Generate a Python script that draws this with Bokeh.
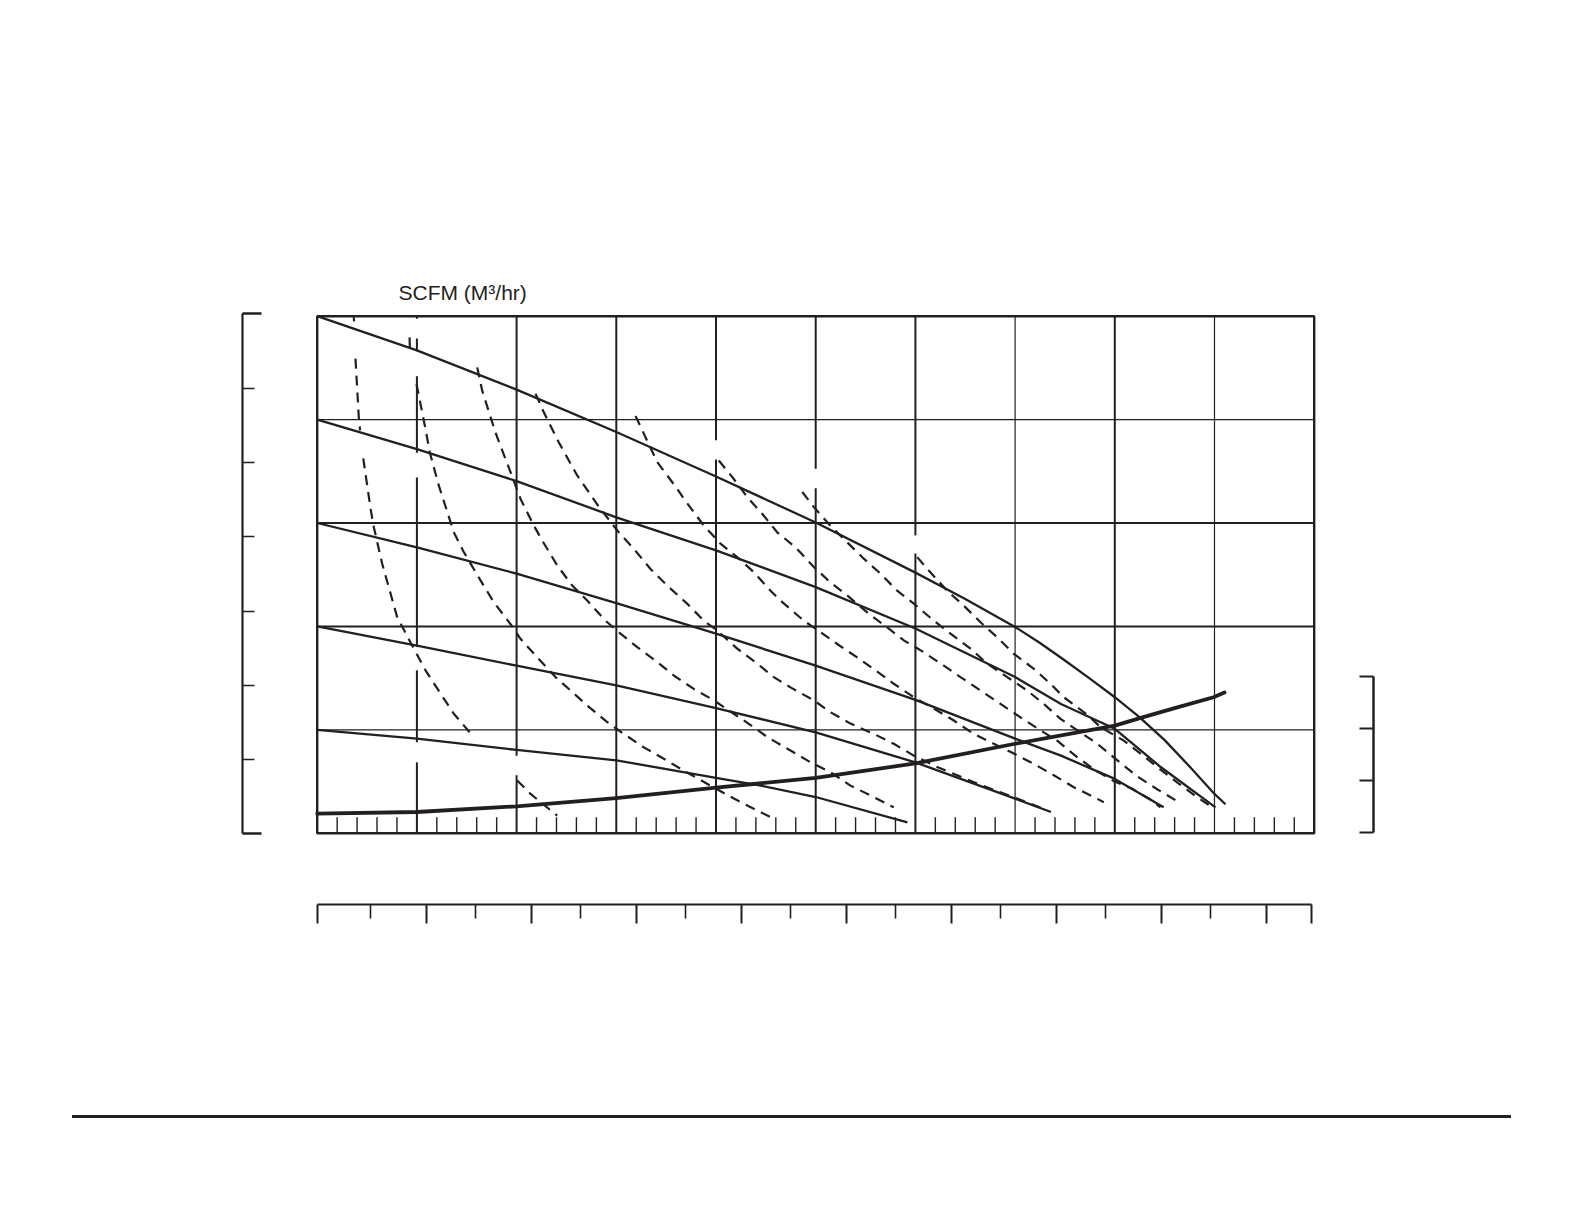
import math
from bokeh.plotting import figure
from bokeh.models import Range1d, LinearAxis, FixedTicker, CustomJSTickFormatter, ColumnDataSource, Div
from bokeh.layouts import column
from bokeh.embed import file_html
from bokeh.resources import INLINE
from bokeh.core.properties import value

INK = "#231f20"
NAN = float("nan")

# ---------------- data ----------------
# main grid (SCFM scale, 10 columns x 5 rows)
grid_x = [10, 20, 30, 40, 50, 60, 70, 80, 90]
grid_x_w = [2, 2, 2, 2, 2, 2, 1.2, 2, 1.2]
# blank gaps in the vertical grid lines (where curve labels were), in y units
grid_x_gaps = {10: [(99.5, 95.7), (93.2, 88.4), (73.6, 68.8), (36.0, 31.5), (17.6, 13.7)],
               20: [(15.0, 11.2)], 40: [(76.0, 72.3)], 50: [(70.5, 66.7)], 60: [(57.6, 54.1)]}
grid_y = [20, 40, 60, 80]
grid_y_w = [1.2, 2, 2, 1.2]
minor_x = [v for v in range(2, 100, 2) if v % 10 != 0]

# solid pressure curves
s1_x = [0, 10, 20, 30, 40, 50, 60, 65, 70, 72.5, 75, 77.5, 80, 82.5, 85, 87.5, 90, 91.1]
s1_y = [100, 93.4, 85.8, 77.6, 69.0, 60.1, 50.4, 45.3, 39.9, 36.8, 33.4, 29.9, 26.3, 22.4, 18.0, 12.9, 7.6, 5.6]
s2_x = [0, 10, 20, 30, 40, 50, 60, 70, 74.6, 80, 84.6, 90.1]
s2_y = [80, 74.3, 68.1, 61.1, 54.7, 47.6, 39.6, 30.2, 25.0, 20.2, 12.8, 5.0]
s3_x = [0, 10, 20, 30, 40, 50, 60, 70, 74.6, 80, 84.9]
s3_y = [60, 55.3, 50.2, 44.5, 38.6, 32.4, 25.8, 18.3, 15.0, 10.5, 5.0]
s4_x = [0, 10, 20, 30, 40, 50, 60, 70, 73.6]
s4_y = [40, 36.3, 32.4, 28.6, 24.2, 19.5, 13.7, 6.7, 4.1]
s5_x = [0, 10, 20, 30, 40, 44.5, 50, 59.2]
s5_y = [20, 18.3, 16.1, 14.1, 10.7, 9.2, 7.0, 2.1]

# heavy rising curve
h_x = [0, 10, 20, 30, 40, 50, 60, 70, 80, 82.6, 86, 89.9, 91]
h_y = [3.8, 4.1, 5.2, 6.8, 8.8, 10.7, 13.5, 17.3, 20.8, 22.3, 24.2, 26.3, 27.2]

# dashed air-consumption curves (NaN = blank where a label was)
d1_x = [3.67, 3.70, NAN, 3.84, 4.17, 4.30, NAN, 4.62, 5.35, 5.68, 6.52, 8.02, 9.36, 10.86, 13.70, 15.71,
        NAN, 20.06, 21.40, 24.07]
d1_y = [99.8, 99.0, NAN, 91.8, 80.5, 77.9, NAN, 72.5, 62.8, 59.2, 52.1, 41.8, 36.9, 31.5, 23.1, 18.6,
        NAN, 10.2, 7.6, 3.4]
d2_x = [9.26, 9.30, NAN, 9.96, 10.86, 11.29, 12.14, 13.70, 14.70, 16.38, 17.71, 19.56, 20.39, 22.07, 23.90,
        25.41, 27.08, 29.09, 30.75, 32.76, 34.76, 36.77, 39.45, 41.79, 44.13, 45.47]
d2_y = [95.9, 93.6, NAN, 86.9, 78.2, 73.7, 67.6, 58.2, 54.4, 48.9, 44.7, 40.0, 37.6, 34.0, 30.2,
        27.6, 24.7, 21.5, 19.2, 16.6, 14.4, 12.1, 9.2, 6.7, 4.4, 3.1]
d3_x = [16.05, 16.55, 17.55, 18.05, 19.26, 20.39, 21.73, 22.57, 24.07, 25.58, 27.08, 28.92, 30.42, 32.10,
        34.10, 35.77, 37.77, 39.78, 41.79, 43.79, 45.14, 47.47, 49.48, 51.48, 53.49, 55.50, 57.83]
d3_y = [90.1, 85.6, 79.5, 76.6, 70.5, 64.7, 59.5, 56.6, 51.8, 47.9, 45.0, 41.1, 38.6, 36.0,
        33.1, 30.5, 27.9, 25.7, 23.1, 20.5, 18.6, 16.0, 13.7, 11.8, 9.2, 7.3, 5.0]
d4_x = [21.90, 22.73, 24.23, 26.08, 28.42, 30.25, 31.76, 33.43, 35.27, 37.11, 38.78, 40.12, 42.13, 44.13,
        45.80, 47.47, 49.81, 51.48, 53.49, 55.83, 57.83, 59.84, 62.19, 64.19, 66.20, 68.54, 70.21, 72.88]
d4_y = [85.0, 81.4, 75.6, 69.2, 62.7, 58.2, 55.0, 51.1, 47.6, 44.4, 41.1, 39.2, 35.7, 32.8,
        30.2, 28.2, 25.7, 23.4, 21.2, 19.2, 17.3, 15.0, 12.8, 11.2, 9.6, 7.9, 6.7, 4.7]
d5_x = [31.93, 33.10, 34.10, 36.11, 36.77, 38.78, 40.45, 42.13, 43.79, 45.47, 46.47, 48.81, 50.48, 52.16,
        54.16, 56.00, 57.83, 59.84, 61.85, 63.85, 65.86, 67.86, 69.87, 71.88, 73.88, 75.89, 77.89, 78.90]
d5_y = [80.7, 75.9, 71.8, 66.6, 64.7, 59.5, 56.0, 53.4, 50.5, 46.9, 45.0, 41.1, 38.9, 36.6,
        34.0, 31.5, 28.9, 26.3, 24.1, 21.8, 19.2, 17.3, 15.4, 13.4, 11.2, 8.9, 7.0, 6.0]
d6_x = [40.28, 41.79, 43.13, 44.63, 46.14, 47.97, 49.81, 51.48, 53.16, 55.17, 57.17, 58.84, 60.84, 62.85,
        64.52, 66.53, 68.54, 70.54, 72.55, 74.22, 76.16, 77.96, 79.97, 81.75, 83.75, 84.58]
d6_y = [72.1, 68.5, 65.0, 61.8, 58.2, 55.3, 51.5, 48.5, 46.0, 42.7, 39.8, 37.3, 35.0, 32.4,
        30.2, 27.6, 25.0, 22.4, 19.9, 17.9, 14.8, 12.3, 10.0, 8.6, 6.3, 5.0]
d7_x = [48.65, 49.81, 51.31, 52.82, 54.82, 56.50, 58.17, 59.84, 61.85, 63.52, 65.53, 67.20, 69.21, 71.21,
        72.88, 74.56, 76.86, 78.24, 80.57, 82.25, 84.25, 86.34]
d7_y = [66.0, 63.1, 59.8, 56.9, 53.1, 50.2, 46.9, 44.4, 41.1, 38.6, 35.7, 32.8, 30.2, 27.6,
        25.0, 22.1, 19.1, 17.3, 13.6, 11.0, 8.5, 6.1]
d8_x = [60.18, 61.34, 63.19, 64.86, 66.53, 68.20, 69.87, 71.88, 73.55, 74.88, 77.31, 78.57, 80.90, 82.91,
        84.58, 86.34, 88.17, 89.77]
d8_y = [53.4, 50.8, 46.9, 44.0, 40.8, 37.9, 34.7, 31.8, 28.9, 26.3, 22.8, 20.5, 17.9, 14.9,
        12.3, 9.7, 7.1, 5.0]

# outer scales (tick values; their labels are blank in the original)
left_major = [0, 7]
left_minor = [1, 2, 3, 4, 5, 6]
right_ticks = [0, 1, 2, 3]
bottom_major = [-0.032, 1, 2, 3, 4, 5, 6, 7, 8, 9, 9.429]
bottom_minor = [0.47, 1.47, 2.47, 3.47, 4.47, 5.47, 6.47, 7.47, 8.47]

title_text = "SCFM (M\u00b3/hr)"

# ---------------- layout constants (pixels) ----------------
FL, FR, FT, FB = 242, 1373, 272, 904           # frame edges on the page
PX0, PXS = 316.7, 9.97                          # x=0 position, px per unit
PY0, PYS = 832.7, 5.17                          # y=0 position, px per unit
LY0, LYS = 833.4, 74.3                          # left scale
RY0, RYS = 832.3, 52.1                          # right scale
BX0, BXS = 320.7, 105.0                         # bottom scale
RULE_Y, RULE_X0, RULE_X1 = 1115, 72, 1511       # page rule
TITLE_X, TITLE_Y = 398, 291.5                   # caption position

p = figure(
    frame_width=FR - FL, frame_height=FB - FT,
    min_border_left=FL, min_border_top=FT, min_border_right=30, min_border_bottom=RULE_Y - FB,
    x_range=Range1d((FL - PX0) / PXS, (FR - PX0) / PXS),
    y_range=Range1d((PY0 - FB) / PYS, (PY0 - FT) / PYS),
    x_axis_location=None, y_axis_location=None,
    output_backend="svg", toolbar_location=None,
)
p.grid.visible = False
p.outline_line_color = None
p.background_fill_color = "white"
p.border_fill_color = "white"

p.extra_y_ranges = {
    "L": Range1d((LY0 - FB) / LYS, (LY0 - FT) / LYS),
    "R": Range1d((RY0 - FB) / RYS, (RY0 - FT) / RYS),
}
p.extra_x_ranges = {"B": Range1d((FL - BX0) / BXS, (FR - BX0) / BXS)}

blank = CustomJSTickFormatter(code="return ''")

ax_l = LinearAxis(
    y_range_name="L", bounds=(left_major[0], left_major[-1]),
    ticker=FixedTicker(ticks=left_major, minor_ticks=left_minor),
    major_tick_in=19, major_tick_out=0, minor_tick_in=12, minor_tick_out=0,
    axis_line_color=INK, axis_line_width=2.2,
    major_tick_line_color=INK, major_tick_line_width=2.5,
    minor_tick_line_color=INK, minor_tick_line_width=1.5,
    formatter=blank, major_label_text_font_size="0px",
)
p.add_layout(ax_l, "left")

ax_r = LinearAxis(
    y_range_name="R", bounds=(right_ticks[0], right_ticks[-1]),
    ticker=FixedTicker(ticks=right_ticks, minor_ticks=[]),
    major_tick_in=14, major_tick_out=0, minor_tick_in=0, minor_tick_out=0,
    axis_line_color=INK, axis_line_width=2.5,
    major_tick_line_color=INK, major_tick_line_width=2,
    formatter=blank, major_label_text_font_size="0px",
)
p.add_layout(ax_r, "right")

ax_b = LinearAxis(
    x_range_name="B", bounds=(bottom_major[0] - 0.001, bottom_major[-1] + 0.001),
    ticker=FixedTicker(ticks=bottom_major, minor_ticks=bottom_minor),
    major_tick_in=0, major_tick_out=19, minor_tick_in=0, minor_tick_out=14,
    axis_line_color=INK, axis_line_width=2.2,
    major_tick_line_color=INK, major_tick_line_width=2,
    minor_tick_line_color=INK, minor_tick_line_width=1.6,
    formatter=blank, major_label_text_font_size="0px",
)
p.add_layout(ax_b, "below")

# vertical grid lines, broken where the original had labels
vx, vy, vw = [], [], []
for gx, w in zip(grid_x, grid_x_w):
    top = 100.0
    for g_hi, g_lo in grid_x_gaps.get(gx, []):
        vx.append([gx, gx]); vy.append([top, g_hi]); vw.append(w)
        top = g_lo
    vx.append([gx, gx]); vy.append([top, 0.0]); vw.append(w)
p.multi_line(xs=vx, ys=vy, line_color=INK, line_width=vw)
p.segment(x0=[0] * len(grid_y), x1=[100] * len(grid_y), y0=grid_y, y1=grid_y,
          line_color=INK, line_width=grid_y_w)
p.segment(x0=minor_x, x1=minor_x, y0=[0] * len(minor_x), y1=[16 / PYS] * len(minor_x),
          line_color=INK, line_width=1.4)
p.quad(left=[0], right=[100], bottom=[0], top=[100], fill_color=None, line_color=INK, line_width=2.4)

# curves
p.multi_line(xs=[d1_x, d2_x, d3_x, d4_x, d5_x, d6_x, d7_x, d8_x],
             ys=[d1_y, d2_y, d3_y, d4_y, d5_y, d6_y, d7_y, d8_y],
             line_color=INK, line_width=2.2, line_dash="10 7")
p.multi_line(xs=[s1_x, s2_x, s3_x, s4_x, s5_x], ys=[s1_y, s2_y, s3_y, s4_y, s5_y],
             line_color=INK, line_width=2.3, line_join="round")
p.line(h_x, h_y, line_color=INK, line_width=3.8, line_join="round", line_cap="round")

# caption of the flow scale
src = ColumnDataSource(dict(x=[(TITLE_X - PX0) / PXS], y=[(PY0 - TITLE_Y) / PYS], t=[title_text]))
p.text(x="x", y="y", text="t", source=src, text_font=value("Liberation Sans"),
       text_font_size="21px", text_color=INK, text_align="left", text_baseline="alphabetic")

# page rule at the bottom
rule = Div(text="", width=RULE_X1 - RULE_X0, height=3, margin=(0, 0, 0, RULE_X0),
           styles={"background-color": INK})

layout = column(p, rule, spacing=0)
open("out.html", "w").write(file_html(layout, INLINE))
